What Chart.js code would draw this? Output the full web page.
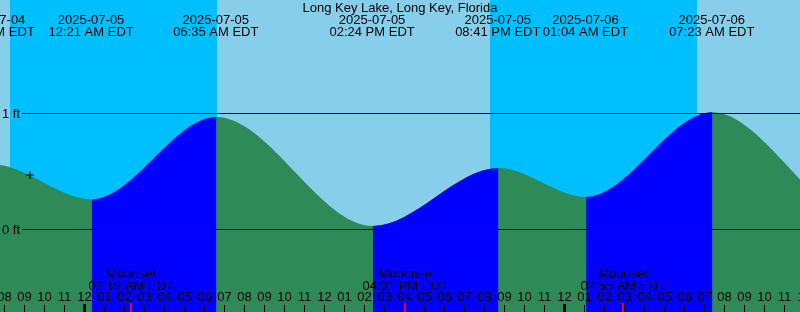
<!DOCTYPE html>
<html>
<head>
<meta charset="utf-8">
<script src="https://cdn.jsdelivr.net/npm/chart.js@4"></script>
<style>
  html, body { margin: 0; padding: 0; background: #87ceeb; }
  #tideChart { display: block; }
</style>
</head>
<body>
<canvas id="tideChart" width="800" height="312"></canvas>
<script>
// all times are hours counted from 2025-07-05 00:00 EDT
const stationName = 'Long Key Lake, Long Key, Florida';

// high / low tides (first and last ones sit outside the window)
const tideHours = [-11.6, -4.6, 0.35, 6.583, 14.4, 20.683, 25.067, 31.383, 38.9, 45.2];
const tideFeet  = [0.02, 0.56, 0.26, 0.97, 0.03, 0.53, 0.28, 1.01, 0.08, 0.55];
const tideDates = ['2025-07-04', '2025-07-04', '2025-07-05', '2025-07-05', '2025-07-05',
                   '2025-07-05', '2025-07-06', '2025-07-06', '2025-07-06', '2025-07-06'];
const tideTimes = ['12:24 PM EDT', '07:24 PM EDT', '12:21 AM EDT', '06:35 AM EDT', '02:24 PM EDT',
                   '08:41 PM EDT', '01:04 AM EDT', '07:23 AM EDT', '02:54 PM EDT', '09:12 PM EDT'];

// sunset -> sunrise
const nightStart = [-3.74, 20.26];
const nightEnd   = [6.595, 30.595];

const moonHours = [2.317, 16.017, 26.917];
const moonNames = ['Moonset', 'Moonrise', 'Moonset'];
const moonTimes = ['02:19 AM EDT', '04:01 PM EDT', '02:55 AM EDT'];

// the little "+" marker
const markHours = [-2.74];
const markFeet  = [0.47];

const levelFeet   = [0, 1];
const levelLabels = ['0 ft', '1 ft'];

const hourFirst = -4.24;
const hourLast  = 35.76;

const FONT  = '13px "Liberation Sans", Arial, sans-serif';
const DAY   = '#87ceeb';
const NIGHT = '#00bfff';
const EBB   = '#2e8b57';
const FLOOD = '#0000ff';
const NONE  = 'rgba(0,0,0,0)';

function hourLabel(h) {
  const hh = ((h % 24) + 24) % 24;
  const h12 = ((hh + 11) % 12) + 1;
  return String(h12).padStart(2, '0');
}

const backdrop = {
  id: 'backdrop',
  beforeDatasetsDraw(chart) {
    const { ctx, chartArea: a, scales: { x } } = chart;
    ctx.save();
    ctx.fillStyle = DAY;
    ctx.fillRect(a.left, a.top, a.width, a.height);
    ctx.fillStyle = NIGHT;
    nightStart.forEach((s, i) => {
      const x0 = Math.round(x.getPixelForValue(s));
      const x1 = Math.round(x.getPixelForValue(nightEnd[i]));
      ctx.fillRect(x0, a.top, x1 - x0, a.height);
    });
    ctx.restore();
  }
};

const overlay = {
  id: 'overlay',
  afterDatasetsDraw(chart) {
    const { ctx, chartArea: a, scales: { x, y } } = chart;
    ctx.save();
    ctx.font = FONT;
    ctx.fillStyle = '#000';
    ctx.strokeStyle = '#000';
    ctx.lineWidth = 1;

    // datum lines
    levelFeet.forEach((v, i) => {
      const py = Math.floor(y.getPixelForValue(v)) + 0.5;
      ctx.beginPath();
      ctx.moveTo(22, py);
      ctx.lineTo(a.right, py);
      ctx.stroke();
      ctx.textAlign = 'left';
      ctx.fillText(levelLabels[i], 2, py + 4.5);
    });

    ctx.textAlign = 'center';
    ctx.fillText(stationName, (a.left + a.right) / 2, 12);

    tideHours.forEach((h, i) => {
      const px = x.getPixelForValue(h) - 0.7;
      ctx.fillText(tideDates[i], px, 24);
      ctx.fillText(tideTimes[i], px, 36);
    });

    moonHours.forEach((h, i) => {
      const px = x.getPixelForValue(h);
      ctx.fillText(moonNames[i], px, 277.5);
      ctx.fillText(moonTimes[i], px, 290);
    });

    // hour ticks along the bottom
    for (let h = Math.floor(x.min); h <= Math.ceil(x.max); h++) {
      const px = Math.floor(x.getPixelForValue(h));
      ctx.fillText(hourLabel(h), px + 0.5, 301);
      if (((h % 24) + 24) % 24 === 0) ctx.fillRect(px - 1, 304, 3, 8);
      else ctx.fillRect(px, 305, 1, 7);
    }

    ctx.fillStyle = '#ff0000';
    moonHours.forEach(h => {
      const px = Math.round(x.getPixelForValue(h));
      ctx.fillRect(px - 1, 303, 2, 9);
    });
    ctx.restore();
  }
};

const tidePoints = tideHours.map((h, i) => ({ x: h, y: tideFeet[i] }));

new Chart(document.getElementById('tideChart'), {
  type: 'line',
  data: {
    datasets: [
      {
        label: 'mark',
        data: markHours.map((h, i) => ({ x: h, y: markFeet[i] })),
        showLine: false,
        pointStyle: 'cross',
        pointRadius: 4,
        pointBorderColor: '#000',
        pointBorderWidth: 1
      },
      {
        // rising water, painted over the green
        label: 'flood',
        data: tidePoints,
        cubicInterpolationMode: 'monotone',
        borderWidth: 0,
        borderColor: NONE,
        pointRadius: 0,
        fill: 'start',
        backgroundColor: NONE,
        segment: {
          backgroundColor: c => c.p1.parsed.y > c.p0.parsed.y ? FLOOD : NONE
        }
      },
      {
        label: 'tide',
        data: tidePoints,
        cubicInterpolationMode: 'monotone',
        borderWidth: 0,
        borderColor: NONE,
        pointRadius: 0,
        fill: 'start',
        backgroundColor: EBB
      }
    ]
  },
  options: {
    responsive: false,
    animation: false,
    events: [],
    layout: { padding: 0, autoPadding: false },
    scales: {
      x: { type: 'linear', min: hourFirst, max: hourLast, display: false },
      y: { type: 'linear', min: -0.7112, max: 1.9784, display: false }
    },
    plugins: {
      legend: { display: false },
      tooltip: { enabled: false }
    }
  },
  plugins: [backdrop, overlay]
});
</script>
</body>
</html>
